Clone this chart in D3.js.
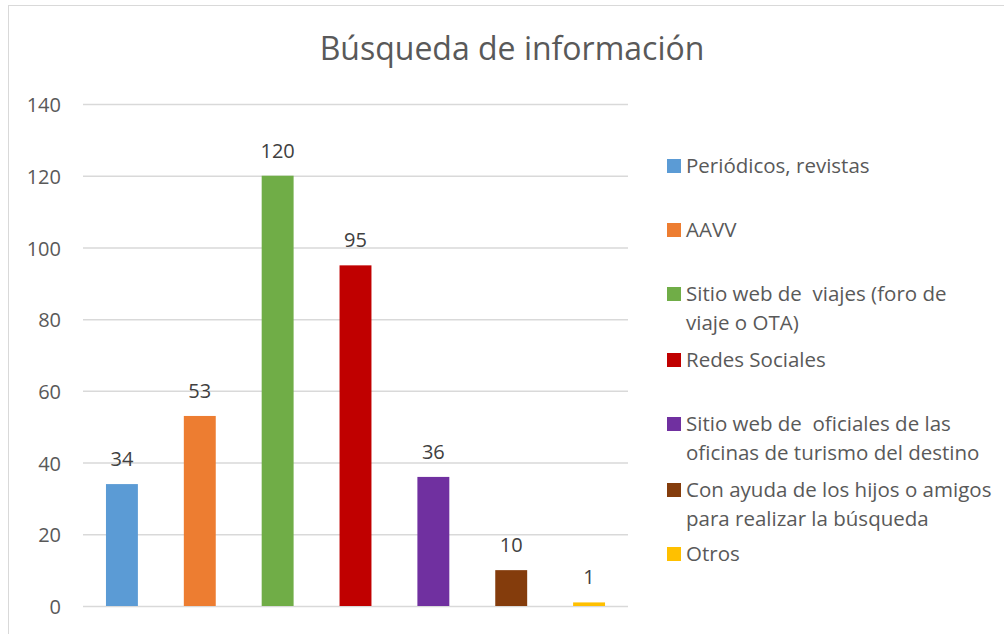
<!DOCTYPE html>
<html>
<head>
<meta charset="utf-8">
<script src="https://cdn.jsdelivr.net/npm/d3@7"></script>
<style>
  body { margin: 0; background: #fff; }
  text { font-family: "Open Sans", Lato, sans-serif; font-variant-ligatures: none; }
</style>
</head>
<body>
<div id="chart"></div>
<script>
const categories = ["Periódicos, revistas", "AAVV", "Sitio web de  viajes (foro de viaje o OTA)", "Redes Sociales",
  "Sitio web de  oficiales de las oficinas de turismo del destino", "Con ayuda de los hijos o amigos para realizar la búsqueda", "Otros"];
const legendLines = [["Periódicos, revistas"], ["AAVV"], ["Sitio web de  viajes (foro de", "viaje o OTA)"], ["Redes Sociales"],
  ["Sitio web de  oficiales de las", "oficinas de turismo del destino"], ["Con ayuda de los hijos o amigos", "para realizar la búsqueda"], ["Otros"]];
const values = [34, 53, 120, 95, 36, 10, 1];
const colors = ["#5B9BD5", "#ED7D31", "#70AD47", "#C00000", "#7030A0", "#843C0C", "#FFC000"];
const yTicks = [0, 20, 40, 60, 80, 100, 120, 140];

var width = 1004, height = 634;
var plotLeft = 83, plotRight = 628, plotTop = 104, plotBottom = 606;

var svg = d3.select("#chart").append("svg")
  .attr("width", width)
  .attr("height", height);

svg.append("rect")
  .attr("x", 8.5).attr("y", 5.5)
  .attr("width", 1000).attr("height", 640)
  .style("fill", "none")
  .style("stroke", "#d9d9d9")
  .style("stroke-width", 1);

svg.append("text")
  .attr("x", 512).attr("y", 60)
  .attr("text-anchor", "middle")
  .attr("font-size", 32)
  .attr("fill", "#595959")
  .text("Búsqueda de información");

var x = d3.scaleBand()
  .domain(categories)
  .range([plotLeft, plotRight])
  .paddingInner(0.59)
  .paddingOuter(0.295);

var y = d3.scaleLinear()
  .domain([0, 140])
  .range([plotBottom, plotTop]);

// gridlines + y labels
var yAxis = d3.axisLeft(y)
  .tickValues(yTicks)
  .tickSize(-(plotRight - plotLeft))
  .tickPadding(22);

var g = svg.append("g")
  .attr("transform", `translate(${plotLeft},0)`)
  .call(yAxis);
g.select(".domain").remove();
g.selectAll(".tick line").style("stroke", "#d9d9d9").style("stroke-width", 1.5);
g.selectAll(".tick text")
  .attr("font-size", 20)
  .attr("dy", "0.38em")
  .attr("fill", "#595959")
  .style("font-family", "'Open Sans', Lato, sans-serif");

svg.append("g").selectAll("rect")
  .data(values)
  .enter().append("rect")
  .attr("x", (d, i) => x(categories[i]))
  .attr("y", d => y(d))
  .attr("width", x.bandwidth())
  .attr("height", d => plotBottom - y(d))
  .style("fill", (d, i) => colors[i]);

svg.append("g").selectAll("text")
  .data(values)
  .enter().append("text")
  .attr("x", (d, i) => x(categories[i]) + x.bandwidth() / 2)
  .attr("y", d => y(d) - 18)
  .attr("text-anchor", "middle")
  .attr("font-size", 20)
  .attr("fill", "#404040")
  .text(d => d);

// legend
var legendY = [166, 230, 294, 360, 424, 490, 554];
var legend = svg.append("g");
legendLines.forEach(function(lines, i) {
  legend.append("rect")
    .attr("x", 667).attr("y", legendY[i] - 7)
    .attr("width", 14).attr("height", 14)
    .style("fill", colors[i]);
  lines.forEach(function(line, j) {
    legend.append("text")
      .attr("x", 686)
      .attr("y", legendY[i] + j * 28.5 + 7)
      .attr("font-size", 20.5)
      .attr("fill", "#595959")
      .style("white-space", "pre")
      .text(line);
  });
});
</script>
</body>
</html>
